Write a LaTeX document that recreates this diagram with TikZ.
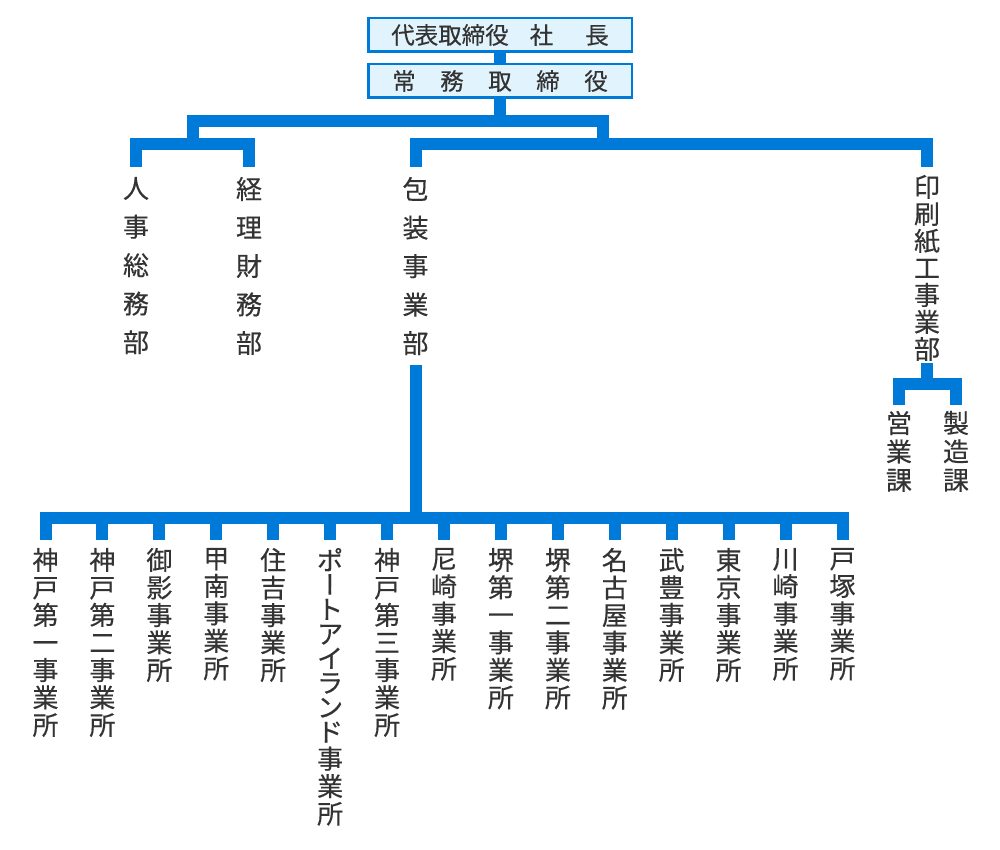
\documentclass[tikz,border=0pt]{standalone}
\usepackage{fontspec}
\newfontfamily\jp{Noto Sans CJK JP}[FakeBold=0.35]
\newfontfamily\jpv{Noto Sans CJK JP}[RawFeature=+vert,FakeBold=0.35]
\definecolor{orgblue}{RGB}{0,122,217}
\definecolor{boxfill}{RGB}{225,243,253}
\definecolor{inkc}{RGB}{51,51,51}
\def\tightlines{\lineskiplimit=-100pt\lineskip=0pt}
\begin{document}
\begin{tikzpicture}[x=1pt,y=-1pt,
  bar/.style={draw=orgblue,line width=12pt,line cap=butt,line join=miter},
  topbox/.style={draw=orgblue,line width=2.5pt,fill=boxfill,minimum width=263.5pt,minimum height=33.5pt,inner sep=0pt,text=inkc,font=\jp\fontsize{23.5}{23.5}\selectfont},
  vlabel/.style={anchor=north,inner sep=0pt,outer xsep=0pt,align=center,text=inkc},
  uplab/.style={vlabel,outer ysep=10pt,font=\jp\fontsize{26}{38.5}\selectfont\tightlines},
  inslab/.style={vlabel,outer ysep=8pt,font=\jp\fontsize{26}{27}\selectfont\tightlines},
  sublab/.style={vlabel,outer ysep=6pt,font=\jp\fontsize{26}{28.5}\selectfont\tightlines},
  lowlab/.style={vlabel,outer ysep=8pt,font=\jp\fontsize{26}{27.5}\selectfont\tightlines}
]
\fill[white] (0,0) rectangle (1000,850);
\useasboundingbox (0,0) rectangle (1000,850);

% top boxes
\node[topbox] (pres) at (500,35) {代表取締役\hspace{21pt}社\hspace{32pt}長};
\node[topbox] (jomu) at (500,81) {常\hspace{24.5pt}務\hspace{24.5pt}取\hspace{24.5pt}締\hspace{24.5pt}役};

% departments
\node[uplab] (jinji) at (136,167) {人\\事\\総\\務\\部};
\node[uplab] (keiri) at (249,167) {経\\理\\財\\務\\部};
\node[uplab] (hoso) at (415.5,167) {包\\装\\事\\業\\部};
\node[inslab] (insatsu) at (927,167) {印\\刷\\紙\\工\\事\\業\\部};
\node[sublab] (eigyo) at (899,405) {営\\業\\課};
\node[sublab] (seizo) at (956,405) {製\\造\\課};

% offices
\node[lowlab] (b1) at (45.5,540) {神\\戸\\第\\一\\事\\業\\所};
\node[lowlab] (b2) at (102.4,540) {神\\戸\\第\\二\\事\\業\\所};
\node[lowlab] (b3) at (159.4,540) {御\\影\\事\\業\\所};
\node[lowlab] (b4) at (216.3,540) {甲\\南\\事\\業\\所};
\node[lowlab] (b5) at (273.2,540) {住\\吉\\事\\業\\所};
\node[lowlab] (b6) at (330.1,540) {ポ\\[-3pt]{\jpv ー}\\[-3pt]ト\\[-3pt]ア\\[-3pt]イ\\[-3pt]ラ\\[-3pt]ン\\[-3pt]ド\\[-0.5pt]事\\業\\所};
\node[lowlab] (b7) at (387.1,540) {神\\戸\\第\\三\\事\\業\\所};
\node[lowlab] (b8) at (444.0,540) {尼\\崎\\事\\業\\所};
\node[lowlab] (b9) at (500.9,540) {堺\\第\\一\\事\\業\\所};
\node[lowlab] (b10) at (557.9,540) {堺\\第\\二\\事\\業\\所};
\node[lowlab] (b11) at (614.8,540) {名\\古\\屋\\事\\業\\所};
\node[lowlab] (b12) at (671.7,540) {武\\豊\\事\\業\\所};
\node[lowlab] (b13) at (728.6,540) {東\\京\\事\\業\\所};
\node[lowlab] (b14) at (785.6,540) {川\\崎\\事\\業\\所};
\node[lowlab] (b15) at (842.5,540) {戸\\塚\\事\\業\\所};

% junction coordinates
\coordinate (ub) at (501,121);
\coordinate (lj) at (193,144);
\coordinate (rj) at (602.5,144);
\coordinate (isub) at (927,383.5);
\coordinate (bb) at (415.5,517.5);

% connectors
\draw[bar] (pres.south) -- (jomu.north);
\draw[bar] (jomu.south) -- (jomu.south |- ub);
\draw[bar] (lj) |- (rj |- ub) -- (rj);
\draw[bar] (jinji.north) |- (keiri.north |- lj) -- (keiri.north);
\draw[bar] (hoso.north) |- (insatsu.north |- rj) -- (insatsu.north);
\draw[bar,shorten <=-6pt] (insatsu.south) -- (insatsu.south |- isub);
\draw[bar] (eigyo.north) |- (seizo.north |- isub) -- (seizo.north);
\draw[bar] (hoso.south) -- (hoso.south |- bb);
\draw[bar] (b1.north) |- (b15.north |- bb) -- (b15.north);
\foreach \k in {2,...,14} {\draw[bar] (b\k.north) -- (b\k.north |- bb);}
\end{tikzpicture}
\end{document}
